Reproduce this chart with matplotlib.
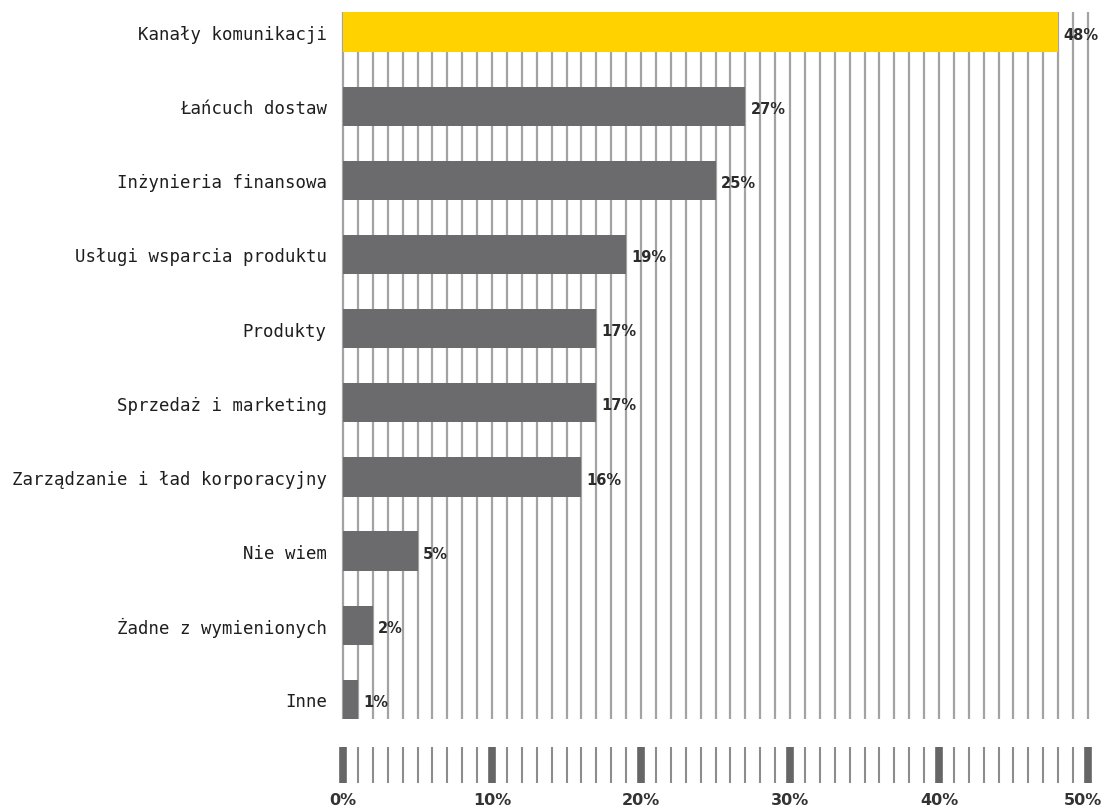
import numpy as np
import matplotlib
matplotlib.use("Agg")
import matplotlib.pyplot as plt
from matplotlib.transforms import blended_transform_factory

# survey answers, top to bottom
categories = [
    "Kanały komunikacji",
    "Łańcuch dostaw",
    "Inżynieria finansowa",
    "Usługi wsparcia produktu",
    "Produkty",
    "Sprzedaż i marketing",
    "Zarządzanie i ład korporacyjny",
    "Nie wiem",
    "Żadne z wymienionych",
    "Inne",
]
values = [48, 27, 25, 19, 17, 17, 16, 5, 2, 1]
tick_values = [0, 10, 20, 30, 40, 50]
tick_labels = ["0%", "10%", "20%", "30%", "40%", "50%"]

YELLOW = "#ffd200"
GREY_BAR = "#6b6b6d"
GRID = "#a3a3a3"

fig = plt.figure(figsize=(11.04, 8.12), dpi=100)
fig.patch.set_facecolor("white")

W, H = 1104, 812
x0, x1 = 343, 1088
xmin, xmax = -0.25, 50.25
pxu = (x1 - x0) / 50.0
left = (x0 + xmin * pxu) / W
width = (xmax - xmin) * pxu / W

bar_h = 0.53
ax = fig.add_axes([left, (H - 720) / H, width, (720 - 13.4) / H])
ypos = np.arange(len(categories))

# thin vertical lines at every percent
ax.vlines(np.arange(0, 51), -1, len(categories) + 1, color=GRID, lw=1.6, zorder=1)

colors = [YELLOW] + [GREY_BAR] * (len(values) - 1)
ax.barh(ypos, values, height=bar_h, color=colors, zorder=2, linewidth=0)

for y, v in zip(ypos, values):
    ax.text(v + 0.35, y + 0.03, f"{v}%", va="center", ha="left",
            fontsize=10.5, fontweight="bold", color="#2b2b2b", zorder=3)

ax.set_yticks(ypos)
ax.set_yticklabels(categories, fontsize=12.5, color="#1e1e1e",
                   family="DejaVu Sans Mono")
ax.tick_params(axis="y", length=0, pad=9)
ax.set_xticks([])
ax.set_xlim(xmin, xmax)
ax.set_ylim(len(categories) - 1 + bar_h / 2, -bar_h / 2)
for s in ax.spines.values():
    s.set_visible(False)

# ruler strip under the chart
rax = fig.add_axes([left, (H - 784) / H, width, 36 / H])
for t in range(0, 51):
    if t % 10 == 0:
        rax.vlines(t, 0, 1, color="#666666", lw=5.5)
    else:
        rax.vlines(t, 0, 1, color="#8c8c8c", lw=1.5)
rax.set_xlim(xmin, xmax)
rax.set_ylim(0, 1)
rax.axis("off")
edge = blended_transform_factory(fig.transFigure, rax.transAxes)
for t, lab in zip(tick_values, tick_labels):
    if t == tick_values[-1]:
        # last label would run past the right edge, pin it there
        rax.text(1 - 1.5 / W, -0.45, lab, ha="right", va="center", fontsize=11.5,
                 color="#333333", fontweight="semibold", transform=edge,
                 clip_on=False)
    else:
        rax.text(t, -0.45, lab, ha="center", va="center", fontsize=11.5,
                 color="#333333", fontweight="semibold", clip_on=False)

fig.savefig("out.png", dpi=100, facecolor="white")
